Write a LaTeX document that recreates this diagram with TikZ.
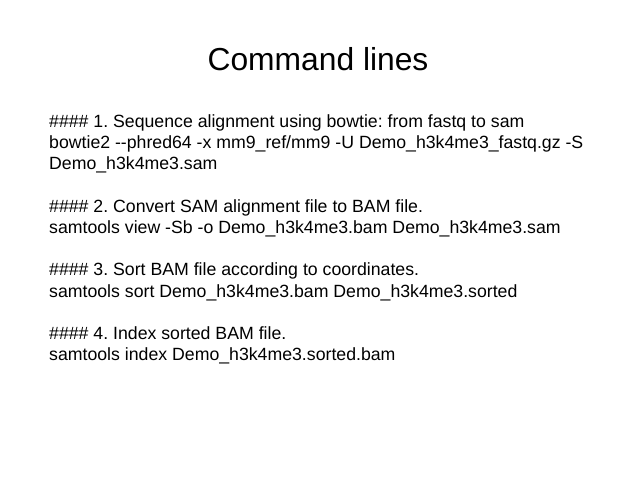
\documentclass[tikz,border=0pt]{standalone}
\usepackage{fontspec}
\setmainfont{Liberation Sans}
\frenchspacing
\begin{document}
\begin{tikzpicture}[x=1bp,y=-1bp,
  body/.style={anchor=base west,inner sep=0pt,font=\fontsize{17.7bp}{21.2bp}\selectfont\frenchspacing},
  title/.style={anchor=base,inner sep=0pt,font=\fontsize{31.8bp}{38bp}\selectfont}]
\useasboundingbox[fill=white] (0,0) rectangle (638,479);
\node[title] (t) at (318,70.5) {Command lines};
\node[body] (l1) at (49,127.5) {\#\#\#\# 1. Sequence alignment using bowtie: from fastq to sam};
\node[body] (l2) at (49,148.7) {bowtie2 -{}-phred64 -x mm9\_ref/mm9 -U Demo\_h3k4me3\_fastq.gz -S};
\node[body] (l3) at (49,169.9) {Demo\_h3k4me3.sam};
\node[body] (l4) at (49,212.3) {\#\#\#\# 2. Convert SAM alignment file to BAM file.};
\node[body] (l5) at (49,233.5) {samtools view -Sb -o Demo\_h3k4me3.bam Demo\_h3k4me3.sam};
\node[body] (l6) at (49,275.9) {\#\#\#\# 3. Sort BAM file according to coordinates.};
\node[body] (l7) at (49,297.1) {samtools sort Demo\_h3k4me3.bam Demo\_h3k4me3.sorted};
\node[body] (l8) at (49,339.5) {\#\#\#\# 4. Index sorted BAM file.};
\node[body] (l9) at (49,360.7) {samtools index Demo\_h3k4me3.sorted.bam};
\end{tikzpicture}
\end{document}
